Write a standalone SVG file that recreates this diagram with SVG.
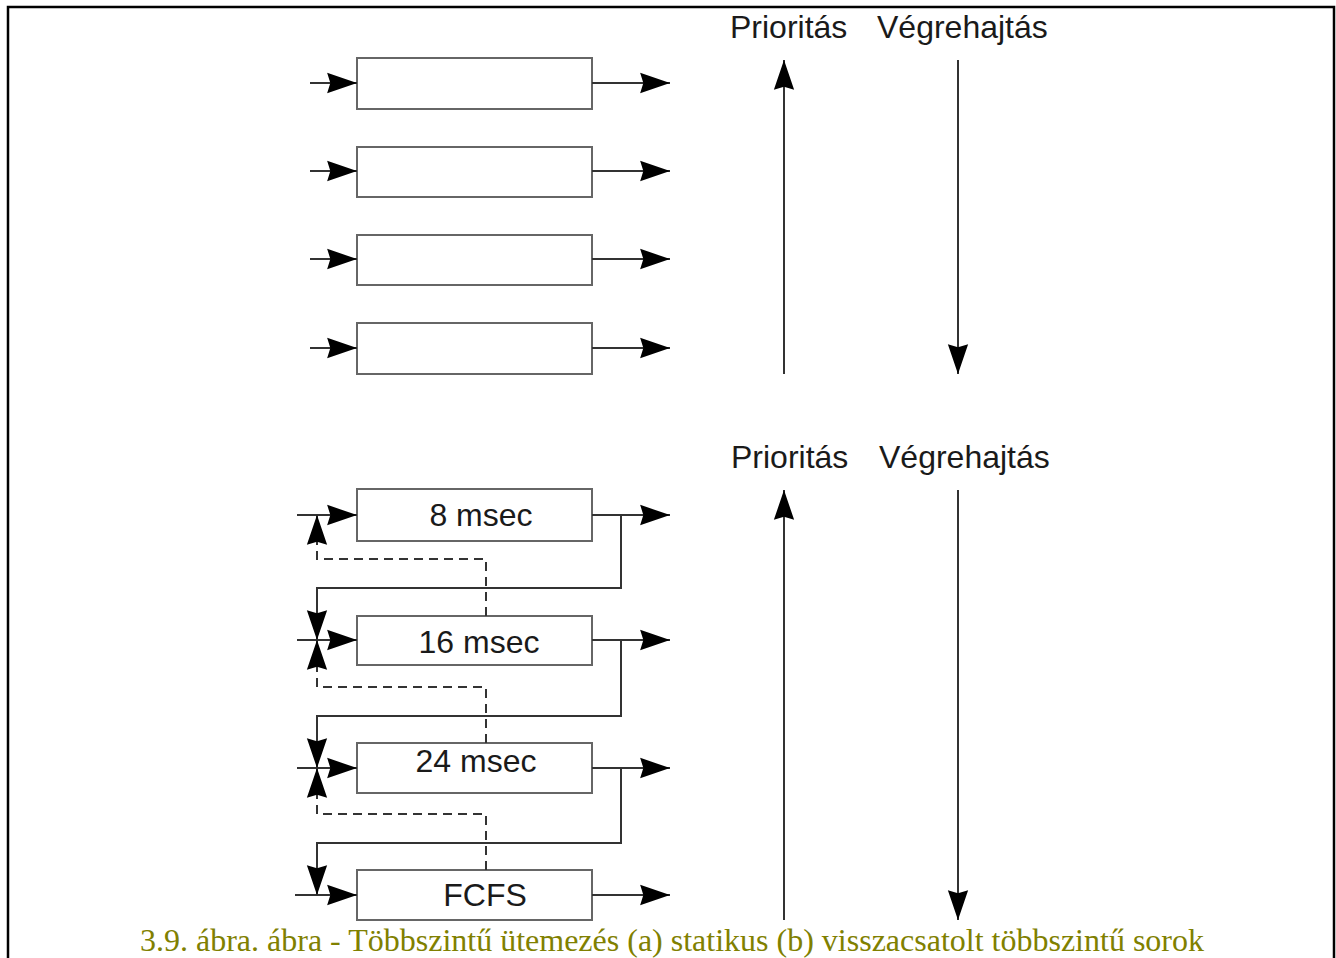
<svg xmlns="http://www.w3.org/2000/svg" width="1336" height="958" viewBox="0 0 1336 958">
  <style>
    .box { fill: #ffffff; stroke: #666666; stroke-width: 2; }
    .wire { fill: none; stroke: #333333; stroke-width: 2; }
    .arrow { fill: none; stroke: #333333; stroke-width: 2; marker-end: url(#head); }
    .dash { fill: none; stroke: #333333; stroke-width: 2; stroke-dasharray: 9 6; }
    .label { font-family: "Liberation Sans", Arial, sans-serif; font-size: 32px; fill: #1a1a1a; }
    .boxText { font-family: "Liberation Sans", Arial, sans-serif; font-size: 32px; fill: #1a1a1a; text-anchor: middle; }
    .caption { font-family: "Liberation Serif", "Times New Roman", serif; font-size: 32px; fill: #808000; text-anchor: middle; }
  </style>
  <defs>
    <marker id="head" markerUnits="userSpaceOnUse" markerWidth="32" markerHeight="22" viewBox="0 -10 30 20" refX="28" refY="0" orient="auto">
      <path d="M0,-9.5 L28,0 L0,9.5 L3,0 z" fill="#000000"/>
    </marker>
  </defs>

  <rect x="0" y="0" width="1336" height="958" fill="#ffffff"/>
  <!-- outer frame -->
  <path d="M8,970 L8,7 L1334,7 L1334,970" fill="none" stroke="#000000" stroke-width="2.5"/>

  <!-- (a) static multilevel queues -->
  <g id="static-queue-1"><rect class="box" x="357" y="58" width="235" height="51"/></g>
  <g id="static-queue-2"><rect class="box" x="357" y="147" width="235" height="50"/></g>
  <g id="static-queue-3"><rect class="box" x="357" y="235" width="235" height="50"/></g>
  <g id="static-queue-4"><rect class="box" x="357" y="323" width="235" height="51"/></g>

  <g id="static-labels">
    <text class="label" x="730" y="38">Prioritás</text>
    <text class="label" x="877" y="38">Végrehajtás</text>
  </g>

  <!-- (b) feedback multilevel queues -->
  <g id="queue-8ms">
    <rect class="box" x="357" y="489" width="235" height="52"/>
    <text class="boxText" x="481" y="526">8 msec</text>
  </g>
  <g id="queue-16ms">
    <rect class="box" x="357" y="616" width="235" height="49"/>
    <text class="boxText" x="479" y="653">16 msec</text>
  </g>
  <g id="queue-24ms">
    <rect class="box" x="357" y="743" width="235" height="50"/>
    <text class="boxText" x="476" y="772">24 msec</text>
  </g>
  <g id="queue-fcfs">
    <rect class="box" x="357" y="870" width="235" height="50"/>
    <text class="boxText" x="485" y="906">FCFS</text>
  </g>

  <g id="feedback-labels">
    <text class="label" x="731" y="468">Prioritás</text>
    <text class="label" x="879" y="468">Végrehajtás</text>
  </g>

  <g id="connectors">
    <!-- static: inputs and outputs -->
    <line class="arrow" x1="310" y1="83" x2="357" y2="83"/>
    <line class="arrow" x1="310" y1="171" x2="357" y2="171"/>
    <line class="arrow" x1="310" y1="259" x2="357" y2="259"/>
    <line class="arrow" x1="310" y1="348" x2="357" y2="348"/>
    <line class="arrow" x1="592" y1="83" x2="670" y2="83"/>
    <line class="arrow" x1="592" y1="171" x2="670" y2="171"/>
    <line class="arrow" x1="592" y1="259" x2="670" y2="259"/>
    <line class="arrow" x1="592" y1="348" x2="670" y2="348"/>
    <!-- static: priority / execution axes -->
    <line class="arrow" x1="784" y1="374" x2="784" y2="60"/>
    <line class="arrow" x1="958" y1="60" x2="958" y2="374"/>

    <!-- feedback: inputs -->
    <line class="arrow" x1="297" y1="515" x2="357" y2="515"/>
    <line class="arrow" x1="297" y1="640" x2="357" y2="640"/>
    <line class="arrow" x1="297" y1="768" x2="357" y2="768"/>
    <line class="arrow" x1="295" y1="895" x2="357" y2="895"/>
    <!-- feedback: outputs -->
    <line class="arrow" x1="592" y1="515" x2="670" y2="515"/>
    <line class="arrow" x1="592" y1="640" x2="670" y2="640"/>
    <line class="arrow" x1="592" y1="768" x2="670" y2="768"/>
    <line class="arrow" x1="592" y1="895" x2="670" y2="895"/>
    <!-- feedback: demotion to the next level -->
    <path class="arrow" d="M592,515 L621,515 L621,588 L317,588 L317,640"/>
    <path class="arrow" d="M592,640 L621,640 L621,716 L317,716 L317,768"/>
    <path class="arrow" d="M592,768 L621,768 L621,843 L317,843 L317,895"/>
    <!-- feedback: promotion back to the previous level (dashed) -->
    <path class="dash" d="M486,616 L486,559 L317,559 L317,544"/>
    <path class="arrow" d="M317,545 L317,515"/>
    <path class="dash" d="M486,743 L486,687 L317,687 L317,670"/>
    <path class="arrow" d="M317,670 L317,640"/>
    <path class="dash" d="M486,870 L486,814 L317,814 L317,798"/>
    <path class="arrow" d="M317,798 L317,768"/>
    <!-- feedback: priority / execution axes -->
    <line class="arrow" x1="784" y1="920" x2="784" y2="490"/>
    <line class="arrow" x1="958" y1="490" x2="958" y2="920"/>
  </g>

  <text class="caption" x="672" y="951">3.9. ábra. ábra - Többszintű ütemezés (a) statikus (b) visszacsatolt többszintű sorok</text>
</svg>
